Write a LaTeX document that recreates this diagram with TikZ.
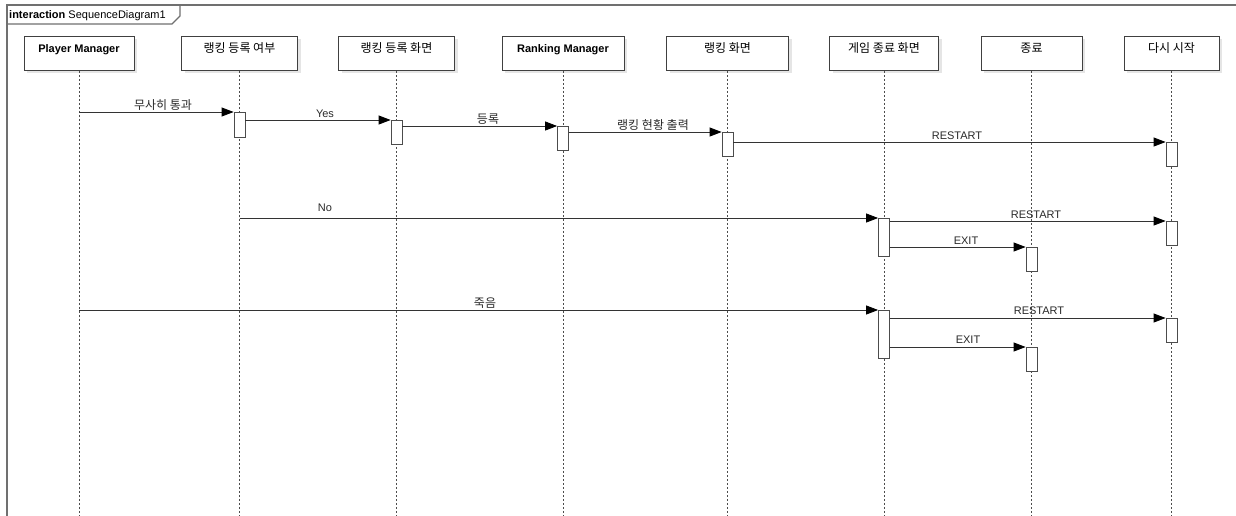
\documentclass[tikz,border=0pt]{standalone}
\usepackage{fontspec}
\setmainfont{Liberation Sans}
\newfontfamily\krfont{Noto Sans CJK KR}
\newcommand{\kr}{\krfont\fontsize{12}{14}\selectfont}
\usetikzlibrary{arrows.meta,shadows}
\definecolor{framegray}{HTML}{707070}
\definecolor{linegray}{HTML}{333333}
\definecolor{txtgray}{HTML}{2a2a2a}
\begin{document}
\begin{tikzpicture}[x=1pt,y=-1pt,
  frame/.style={draw=framegray, line width=1.1pt},
  head/.style={draw=black!75, fill=white, line width=0.8pt, minimum height=34pt,
    anchor=north, text height=8pt, text depth=10pt, inner sep=0pt,
    font=\fontsize{11}{13}\selectfont,
    drop shadow={shadow xshift=3pt, shadow yshift=-3pt, fill=black!10, opacity=1}},
  life/.style={draw=black!70, line width=0.7pt, dash pattern=on 2pt off 2pt},
  act/.style={draw=black!70, fill=white, line width=0.8pt, minimum width=11pt,
    inner sep=0pt, anchor=north},
  msg/.style={draw=linegray, line width=0.8pt,
    -{Triangle[length=12pt,width=9pt,fill=black,color=black]}},
  lbl/.style={anchor=base, inner sep=0pt, text=txtgray, font=\fontsize{11}{13}\selectfont}
]
\useasboundingbox (0,0) rectangle (1236,515);
\clip (0,0) rectangle (1236,515);
\fill[white] (0,0) rectangle (1236,515);

% frame
\draw[frame] (7,530) -- (7,5) -- (1250,5);
\draw[frame] (7,24) -- (172,24) -- (180,16) -- (180,5);
\node[anchor=base west, inner sep=0pt, font=\fontsize{11}{13}\selectfont] (ftag) at (9,18)
  {\textbf{interaction} SequenceDiagram1};

\coordinate (bot) at (0,520);

% heads
\node[head, minimum width=110pt] (h1) at (79,36) {\textbf{Player Manager}};
\node[head, minimum width=116pt] (h2) at (239.5,36) {\kr 랭킹 등록 여부};
\node[head, minimum width=116pt] (h3) at (396.5,36) {\kr 랭킹 등록 화면};
\node[head, minimum width=122pt] (h4) at (563,36) {\textbf{Ranking Manager}};
\node[head, minimum width=122pt] (h5) at (727.5,36) {\kr 랭킹 화면};
\node[head, minimum width=109pt] (h6) at (884,36) {\kr 게임 종료 화면};
\node[head, minimum width=101pt] (h7) at (1031.5,36) {\kr 종료};
\node[head, minimum width=95pt] (h8) at (1171.5,36) {\kr 다시 시작};

% lifelines
\foreach \h in {h1,h2,h3,h4,h5,h6,h7,h8}
  \draw[life] (\h.south) -- (\h.south |- bot);

% activations
\node[act, minimum height=25pt] (a1) at (h2.south |- 0,112) {};
\node[act, minimum height=24pt] (a2) at (h3.south |- 0,120) {};
\node[act, minimum height=24pt] (a3) at (h4.south |- 0,126) {};
\node[act, minimum height=24pt] (a4) at (h5.south |- 0,132) {};
\node[act, minimum height=24pt] (a5) at (h8.south |- 0,142) {};
\node[act, minimum height=38pt] (a6) at (h6.south |- 0,218) {};
\node[act, minimum height=24pt] (a7) at (h8.south |- 0,221) {};
\node[act, minimum height=24pt] (a8) at (h7.south |- 0,247) {};
\node[act, minimum height=48pt] (a9) at (h6.south |- 0,310) {};
\node[act, minimum height=24pt] (a10) at (h8.south |- 0,318) {};
\node[act, minimum height=24pt] (a11) at (h7.south |- 0,347) {};

% messages
\draw[msg] (h1.south |- a1.north) -- (a1.north west);
\draw[msg] (a1.east |- a2.north) -- (a2.north west);
\draw[msg] (a2.east |- a3.north) -- (a3.north west);
\draw[msg] (a3.east |- a4.north) -- (a4.north west);
\draw[msg] (a4.east |- a5.north) -- (a5.north west);
\draw[msg] (h2.south |- a6.north) -- (a6.north west);
\draw[msg] (a6.east |- a7.north) -- (a7.north west);
\draw[msg] (a6.east |- a8.north) -- (a8.north west);
\draw[msg] (h1.south |- a9.north) -- (a9.north west);
\draw[msg] (a9.east |- a10.north) -- (a10.north west);
\draw[msg] (a9.east |- a11.north) -- (a11.north west);

% labels
\node[lbl] (t1) at (163,109) {\kr 무사히 통과};
\node[lbl] (t2) at (325,117) {Yes};
\node[lbl] (t3) at (488,123) {\kr 등록};
\node[lbl] (t4) at (653,129) {\kr 랭킹 현황 출력};
\node[lbl] (t5) at (957,139) {RESTART};
\node[lbl] (t6) at (325,211) {No};
\node[lbl] (t7) at (1036,218) {RESTART};
\node[lbl] (t8) at (966,244) {EXIT};
\node[lbl] (t9) at (485,307) {\kr 죽음};
\node[lbl] (t10) at (1039,314) {RESTART};
\node[lbl] (t11) at (968,343) {EXIT};
\end{tikzpicture}
\end{document}
